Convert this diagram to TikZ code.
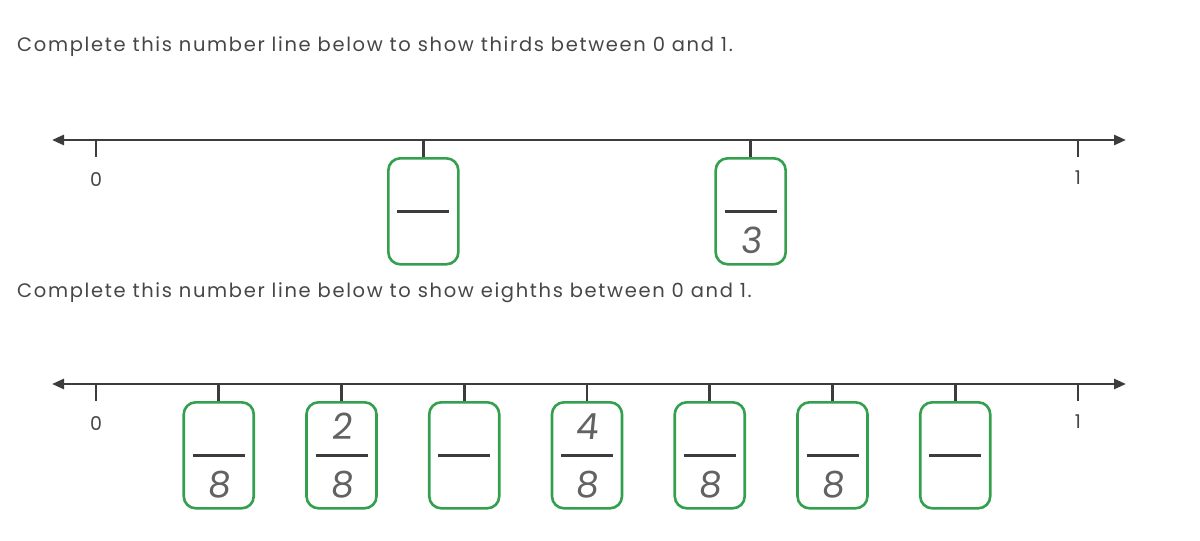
\documentclass[tikz,border=0pt]{standalone}
\usepackage{fontspec}
\setmainfont{Poppins}
\usetikzlibrary{arrows.meta, positioning}
\definecolor{boxgreen}{RGB}{52,160,78}
\definecolor{axisgray}{RGB}{60,60,60}
\definecolor{textgray}{RGB}{70,70,70}
\tikzset{
  axisline/.style={line width=2.6pt, draw=axisgray, {Triangle[length=12pt,width=10pt]}-{Triangle[length=12pt,width=10pt]}},
  tickline/.style={line width=2.6pt, draw=axisgray},
  fracbox/.style={draw=boxgreen, line width=2.6pt, rounded corners=12pt, minimum width=70pt, minimum height=106pt, inner sep=0pt},
  fracbar/.style={line width=3pt, draw=axisgray},
  digit/.style={text=textgray!85, font=\fontsize{36}{36}\selectfont\addfontfeature{FakeSlant=0.1}, inner sep=0pt},
  endlabel/.style={text=textgray, font=\fontsize{19}{19}\selectfont, inner sep=0pt},
  question/.style={text=textgray, font=\fontsize{19.5}{22}\selectfont\addfontfeature{LetterSpace=8.5}, anchor=west, inner sep=0pt}
}
\begin{document}
\begin{tikzpicture}[x=1pt, y=-1pt]
    \useasboundingbox (0,0) rectangle (1200,541);
    % Thirds
    \node[question] (q1) at (17,47) {Complete this number line below to show thirds between 0 and 1.};
    \coordinate (l1) at (52,140);
    \coordinate (r1) at (1126,140);
    \draw[axisline] (l1) -- (r1);
    \coordinate (z1) at (96,140);
    \coordinate (o1) at (1078,140);
    \draw[tickline] (z1) -- ++(0,17);
    \draw[tickline] (o1) -- ++(0,17);
    \node[endlabel] (zl1) at (96,180) {0};
    \node[endlabel] (ol1) at (1078,178) {1};
    \foreach \i/\den in {1/, 2/3} {
        \coordinate (a\i) at ({96+982*\i/3},140);
        \node[fracbox, below=17pt of a\i] (t\i) {};
        \draw[tickline] (a\i) -- (t\i.north);
        \draw[fracbar] ([xshift=-26pt]t\i.center) -- ([xshift=26pt]t\i.center);
        \node[digit] (td\i) at ([yshift=-29pt]t\i.center) {\den};
    }
    % Eighths
    \node[question] (q2) at (17,293) {Complete this number line below to show eighths between 0 and 1.};
    \coordinate (l2) at (52,384);
    \coordinate (r2) at (1126,384);
    \draw[axisline] (l2) -- (r2);
    \coordinate (z2) at (96,384);
    \coordinate (o2) at (1078,384);
    \draw[tickline] (z2) -- ++(0,17);
    \draw[tickline] (o2) -- ++(0,17);
    \node[endlabel] (zl2) at (96,424) {0};
    \node[endlabel] (ol2) at (1078,422) {1};
    \foreach \i/\num/\den in {1//8, 2/2/8, 3//, 4/4/8, 5//8, 6//8, 7//} {
        \coordinate (b\i) at ({96+982*\i/8},384);
        \node[fracbox, below=17pt of b\i] (e\i) {};
        \draw[tickline] (b\i) -- (e\i.north);
        \draw[fracbar] ([xshift=-26pt]e\i.center) -- ([xshift=26pt]e\i.center);
        \node[digit] (en\i) at ([yshift=29pt]e\i.center) {\num};
        \node[digit] (ed\i) at ([yshift=-29pt]e\i.center) {\den};
    }
\end{tikzpicture}
\end{document}
